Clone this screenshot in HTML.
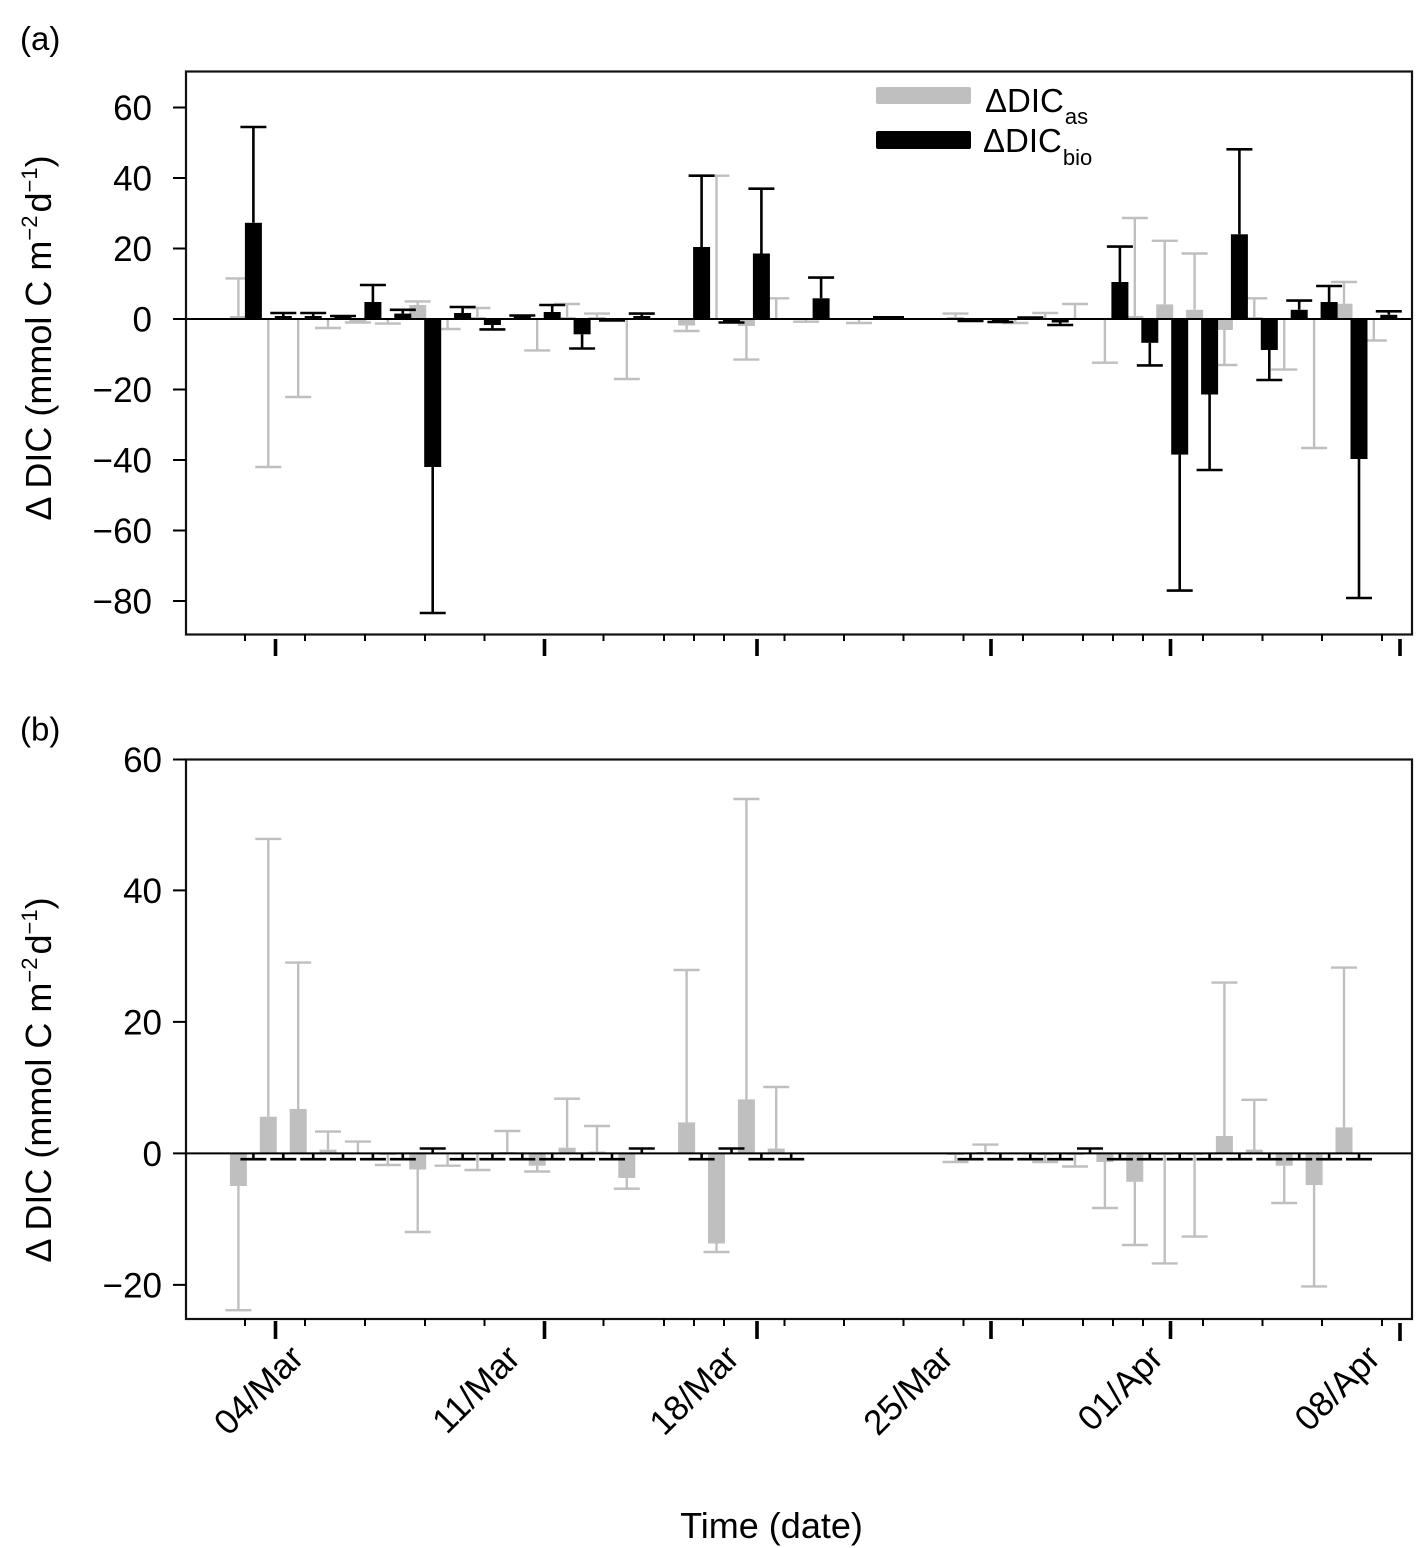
<!DOCTYPE html>
<html>
<head>
<meta charset="utf-8">
<style>
  html, body { margin: 0; padding: 0; background: #ffffff; }
  svg { display: block; }
  text { font-family: "Liberation Sans", Arial, Helvetica, sans-serif; fill: #000; }
</style>
</head>
<body>
<svg width="1417" height="1548" viewBox="0 0 1417 1548" xmlns="http://www.w3.org/2000/svg">
  <rect x="0" y="0" width="1417" height="1548" fill="#ffffff"/>

  <!-- ================= PANEL A ================= -->
  <text x="20" y="50" font-size="33">(a)</text>

  <!-- gray bars (a) -->
  <g fill="#bfbfbf">
    <rect x="229.9" y="316" width="17" height="3"/>
    <rect x="349.4" y="319" width="17" height="2.5"/>
    <rect x="409.2" y="305" width="17" height="14"/>
    <rect x="468.9" y="317" width="17" height="2"/>
    <rect x="558.6" y="317" width="17" height="2"/>
    <rect x="588.5" y="317" width="17" height="2"/>
    <rect x="678.1" y="319" width="17" height="6.5"/>
    <rect x="737.9" y="319" width="17" height="7"/>
    <rect x="947" y="317" width="17" height="2"/>
    <rect x="1126.3" y="316" width="17" height="3"/>
    <rect x="1156.2" y="304.4" width="17" height="14.6"/>
    <rect x="1186.1" y="309.8" width="17" height="9.2"/>
    <rect x="1215.9" y="319" width="17" height="11"/>
    <rect x="1245.8" y="317" width="17" height="2"/>
    <rect x="1335.5" y="303.7" width="17" height="15.3"/>
  </g>
  <!-- gray error bars (a) -->
  <path fill="none" stroke="#bfbfbf" stroke-width="2.4" d="
    M238.4 317V278.4M225.4 278.4H251.4
    M268.3 320V467M255.3 467H281.3
    M298.2 320V397M285.2 397H311.2
    M328 320V328M315 328H341
    M357.9 321V322.5M344.9 322.5H370.9
    M387.8 320V323.6M374.8 323.6H400.8
    M417.7 305V301.4M404.7 301.4H430.7
    M447.6 320V329M434.6 329H460.6
    M477.4 318V308M464.4 308H490.4
    M537.2 320V350.4M524.2 350.4H550.2
    M567.1 318V304M554.1 304H580.1
    M597 318V313.6M584 313.6H610
    M626.8 320V379M613.8 379H639.8
    M686.6 325.5V331M673.6 331H699.6
    M716.5 318V175.7M703.5 175.7H729.5
    M746.4 326V359.6M733.4 359.6H759.4
    M776.2 318V298.3M763.2 298.3H789.2
    M806.1 320V321.7M793.1 321.7H819.1
    M859 320V323M846 323H872
    M955.5 318V313.6M942.5 313.6H968.5
    M1015.3 320V323M1002.3 323H1028.3
    M1045.2 318V313M1032.2 313H1058.2
    M1075 318V304M1062 304H1088
    M1104.9 320V362.7M1091.9 362.7H1117.9
    M1134.8 316V218M1121.8 218H1147.8
    M1164.7 304.4V240.8M1151.7 240.8H1177.7
    M1194.6 309.8V253.5M1181.6 253.5H1207.6
    M1224.4 330V365M1211.4 365H1237.4
    M1254.3 317V298.3M1241.3 298.3H1267.3
    M1284.2 320V369.6M1271.2 369.6H1297.2
    M1314.1 320V448M1301.1 448H1327.1
    M1344 303.7V282M1331 282H1357
    M1373.8 320V340.5M1360.8 340.5H1386.8"/>

  <!-- black bars (a) -->
  <g fill="#000">
    <rect x="244.9" y="222.8" width="17" height="96.2"/>
    <rect x="274.8" y="316" width="17" height="3"/>
    <rect x="304.7" y="316" width="17" height="3"/>
    <rect x="334.5" y="316.5" width="17" height="2.5"/>
    <rect x="364.4" y="302" width="17" height="17"/>
    <rect x="394.3" y="313.6" width="17" height="5.4"/>
    <rect x="424.2" y="319" width="17" height="148"/>
    <rect x="454.1" y="313" width="17" height="6"/>
    <rect x="483.9" y="319" width="17" height="6"/>
    <rect x="513.8" y="316.5" width="17" height="2.5"/>
    <rect x="543.7" y="312" width="17" height="7"/>
    <rect x="573.6" y="319" width="17" height="15.3"/>
    <rect x="603.5" y="319" width="17" height="1.5"/>
    <rect x="633.3" y="316" width="17" height="3"/>
    <rect x="693.1" y="247" width="17" height="72"/>
    <rect x="723" y="319" width="17" height="2.5"/>
    <rect x="752.9" y="253.5" width="17" height="65.5"/>
    <rect x="812.6" y="298.3" width="17" height="20.7"/>
    <rect x="873" y="316" width="31" height="3"/>
    <rect x="962" y="319" width="17" height="1.5"/>
    <rect x="991.9" y="319" width="17" height="2.5"/>
    <rect x="1021.8" y="317.5" width="17" height="1.5"/>
    <rect x="1051.7" y="319" width="17" height="3.5"/>
    <rect x="1111.4" y="282" width="17" height="37"/>
    <rect x="1141.3" y="319" width="17" height="23.8"/>
    <rect x="1171.2" y="319" width="17" height="135.6"/>
    <rect x="1201.1" y="319" width="17" height="75.5"/>
    <rect x="1230.9" y="234.3" width="17" height="84.7"/>
    <rect x="1260.8" y="319" width="17" height="31"/>
    <rect x="1290.7" y="309.8" width="17" height="9.2"/>
    <rect x="1320.6" y="302" width="17" height="17"/>
    <rect x="1350.5" y="319" width="17" height="140"/>
    <rect x="1380.3" y="314.8" width="17" height="4.2"/>
  </g>
  <!-- black error bars (a) -->
  <path fill="none" stroke="#000" stroke-width="2.6" d="
    M253.4 222.8V127M240.4 127H266.4
    M283.3 316V313M270.3 313H296.3
    M313.2 316V313M300.2 313H326.2
    M330 316H356
    M372.9 302V285M359.9 285H385.9
    M402.8 313.6V309.8M389.8 309.8H415.8
    M432.7 467V613M419.7 613H445.7
    M462.6 313V307M449.6 307H475.6
    M492.4 325V329.4M479.4 329.4H505.4
    M509.3 315.5H535.3
    M552.2 312V305M539.2 305H565.2
    M582.1 334.3V348.5M569.1 348.5H595.1
    M599 320.5H625
    M641.8 316V313.6M628.8 313.6H654.8
    M701.6 247V175.7M688.6 175.7H714.6
    M718.5 322.5H744.5
    M761.4 253.5V188.7M748.4 188.7H774.4
    M821.1 298.3V277.6M808.1 277.6H834.1
    M957.5 321H983.5
    M987.4 322H1013.4
    M1017.3 317.5H1043.3
    M1060.2 322.5V325M1047.2 325H1073.2
    M1119.9 282V246.6M1106.9 246.6H1132.9
    M1149.8 342.8V365.4M1136.8 365.4H1162.8
    M1179.7 454.6V590.6M1166.7 590.6H1192.7
    M1209.6 394.5V470M1196.6 470H1222.6
    M1239.4 234.3V149.3M1226.4 149.3H1252.4
    M1269.3 350V380M1256.3 380H1282.3
    M1299.2 309.8V300.6M1286.2 300.6H1312.2
    M1329.1 302V286M1316.1 286H1342.1
    M1359 459V598M1346 598H1372
    M1388.8 314.8V311.3M1375.8 311.3H1401.8"/>

  <!-- zero line (a) -->
  <line x1="186" y1="319" x2="1412" y2="319" stroke="#000" stroke-width="2"/>
  <!-- frame (a) -->
  <rect x="186" y="71.5" width="1226" height="563" fill="none" stroke="#111" stroke-width="2.2"/>

  <!-- y ticks (a) -->
  <path stroke="#000" stroke-width="2" d="
    M173 107.5H186 M173 178H186 M173 248.5H186 M173 319H186
    M173 389.5H186 M173 460H186 M173 530.5H186 M173 601H186"/>
  <g font-size="35" text-anchor="end">
    <text x="152" y="120">60</text>
    <text x="152" y="190.5">40</text>
    <text x="152" y="261">20</text>
    <text x="152" y="331.5">0</text>
    <text x="152" y="402">−20</text>
    <text x="152" y="472.5">−40</text>
    <text x="152" y="543">−60</text>
    <text x="152" y="613.5">−80</text>
  </g>
  <!-- x ticks (a) -->
  <path stroke="#000" stroke-width="2" d="
    M245 634.5V641 M305 634.5V641 M365 634.5V641 M425 634.5V641 M484.5 634.5V641
    M603.5 634.5V641 M664 634.5V641 M694 634.5V641 M724 634.5V641 M784.5 634.5V641
    M844 634.5V641 M903.5 634.5V641 M963.5 634.5V641 M1023 634.5V641 M1083 634.5V641
    M1113 634.5V641 M1143 634.5V641 M1203 634.5V641 M1262.5 634.5V641 M1322 634.5V641 M1382 634.5V641"/>
  <path stroke="#000" stroke-width="3.6" d="
    M275.5 639V656 M544.5 639V656 M757 639V656 M991 639V656 M1170.5 639V656 M1400 639V656"/>

  <!-- y title (a) -->
  <text transform="translate(51,338) rotate(-90)" text-anchor="middle" font-size="36">Δ DIC (mmol C m<tspan font-size="22" dy="-14">−2</tspan><tspan dx="3" dy="14">d</tspan><tspan font-size="22" dy="-14">−1</tspan><tspan dy="14">)</tspan></text>

  <!-- legend -->
  <rect x="876" y="87" width="95" height="17" rx="2" fill="#bfbfbf"/>
  <rect x="876" y="131" width="95" height="18" rx="2" fill="#000"/>
  <text x="985" y="112" font-size="33">ΔDIC<tspan font-size="22" dx="1" dy="12">as</tspan></text>
  <text x="983" y="152" font-size="33">ΔDIC<tspan font-size="22" dx="1" dy="13">bio</tspan></text>

  <!-- ================= PANEL B ================= -->
  <text x="20" y="740.5" font-size="33">(b)</text>

  <!-- gray bars (b) -->
  <g fill="#bfbfbf">
    <rect x="229.9" y="1153.4" width="17" height="32.6"/>
    <rect x="259.8" y="1116.7" width="17" height="36.7"/>
    <rect x="289.7" y="1109" width="17" height="44.4"/>
    <rect x="319.5" y="1149.6" width="17" height="3.8"/>
    <rect x="379.3" y="1153.4" width="17" height="1.6"/>
    <rect x="409.2" y="1153.4" width="17" height="16.1"/>
    <rect x="498.8" y="1152" width="17" height="1.4"/>
    <rect x="528.7" y="1153.4" width="17" height="12.3"/>
    <rect x="558.6" y="1147.7" width="17" height="5.7"/>
    <rect x="588.5" y="1151.5" width="17" height="1.9"/>
    <rect x="618.3" y="1153.4" width="17" height="24.6"/>
    <rect x="678.1" y="1122.4" width="17" height="31"/>
    <rect x="708" y="1153.4" width="17" height="90.1"/>
    <rect x="737.9" y="1099.4" width="17" height="54"/>
    <rect x="767.7" y="1148.5" width="17" height="4.9"/>
    <rect x="947" y="1153.4" width="17" height="1.6"/>
    <rect x="976.9" y="1152" width="17" height="1.4"/>
    <rect x="1036.7" y="1153.4" width="17" height="1.6"/>
    <rect x="1066.5" y="1153.4" width="17" height="1.6"/>
    <rect x="1096.4" y="1153.4" width="17" height="8.6"/>
    <rect x="1126.3" y="1153.4" width="17" height="28.4"/>
    <rect x="1156.2" y="1153.4" width="17" height="1.6"/>
    <rect x="1186.1" y="1153.4" width="17" height="1.6"/>
    <rect x="1215.9" y="1136" width="17" height="17.4"/>
    <rect x="1245.8" y="1149.6" width="17" height="3.8"/>
    <rect x="1275.7" y="1153.4" width="17" height="12.3"/>
    <rect x="1305.6" y="1153.4" width="17" height="31.6"/>
    <rect x="1335.5" y="1127.4" width="17" height="26"/>
  </g>
  <!-- gray error bars (b) -->
  <path fill="none" stroke="#bfbfbf" stroke-width="2.4" d="
    M238.4 1186V1310.2M225.4 1310.2H251.4
    M268.3 1116.7V838.9M255.3 838.9H281.3
    M298.2 1109V962.6M285.2 962.6H311.2
    M328 1149.6V1131.6M315 1131.6H341
    M357.9 1152.5V1141.6M344.9 1141.6H370.9
    M387.8 1155V1165M374.8 1165H400.8
    M417.7 1169.5V1232M404.7 1232H430.7
    M447.6 1154.5V1165.7M434.6 1165.7H460.6
    M477.4 1154.5V1170M464.4 1170H490.4
    M507.3 1152V1131M494.3 1131H520.3
    M537.2 1165.7V1171.5M524.2 1171.5H550.2
    M567.1 1147.7V1098.7M554.1 1098.7H580.1
    M597 1151.5V1126M584 1126H610
    M626.8 1178V1188.7M613.8 1188.7H639.8
    M686.6 1122.4V970M673.6 970H699.6
    M716.5 1243.5V1252M703.5 1252H729.5
    M746.4 1099.4V799M733.4 799H759.4
    M776.2 1148.5V1087M763.2 1087H789.2
    M955.5 1155V1162M942.5 1162H968.5
    M985.4 1152V1144.6M972.4 1144.6H998.4
    M1045.2 1155V1162M1032.2 1162H1058.2
    M1075 1155V1166.5M1062 1166.5H1088
    M1104.9 1162V1208M1091.9 1208H1117.9
    M1134.8 1181.8V1245M1121.8 1245H1147.8
    M1164.7 1155V1263.4M1151.7 1263.4H1177.7
    M1194.6 1155V1236.6M1181.6 1236.6H1207.6
    M1224.4 1136V982.6M1211.4 982.6H1237.4
    M1254.3 1149.6V1099.8M1241.3 1099.8H1267.3
    M1284.2 1165.7V1203M1271.2 1203H1297.2
    M1314.1 1185V1286.4M1301.1 1286.4H1327.1
    M1344 1127.4V967.6M1331 967.6H1357"/>

  <!-- black error bars (b) -->
  <path fill="none" stroke="#000" stroke-width="2.6" d="
    M253.4 1153.4V1159.2M240.4 1159.2H266.4
    M283.3 1153.4V1159.2M270.3 1159.2H296.3
    M313.2 1153.4V1159.2M300.2 1159.2H326.2
    M343 1153.4V1159.2M330 1159.2H356
    M372.9 1153.4V1159.2M359.9 1159.2H385.9
    M402.8 1153.4V1159.2M389.8 1159.2H415.8
    M462.6 1153.4V1159.2M449.6 1159.2H475.6
    M492.4 1153.4V1159.2M479.4 1159.2H505.4
    M522.3 1153.4V1159.2M509.3 1159.2H535.3
    M552.2 1153.4V1159.2M539.2 1159.2H565.2
    M582.1 1153.4V1159.2M569.1 1159.2H595.1
    M612 1153.4V1159.2M599 1159.2H625
    M701.6 1153.4V1159.2M688.6 1159.2H714.6
    M761.4 1153.4V1159.2M748.4 1159.2H774.4
    M791.2 1153.4V1159.2M778.2 1159.2H804.2
    M970.5 1153.4V1159.2M957.5 1159.2H983.5
    M1000.4 1153.4V1159.2M987.4 1159.2H1013.4
    M1030.3 1153.4V1159.2M1017.3 1159.2H1043.3
    M1060.2 1153.4V1159.2M1047.2 1159.2H1073.2
    M1119.9 1153.4V1159.2M1106.9 1159.2H1132.9
    M1149.8 1153.4V1159.2M1136.8 1159.2H1162.8
    M1179.7 1153.4V1159.2M1166.7 1159.2H1192.7
    M1209.6 1153.4V1159.2M1196.6 1159.2H1222.6
    M1239.4 1153.4V1159.2M1226.4 1159.2H1252.4
    M1269.3 1153.4V1159.2M1256.3 1159.2H1282.3
    M1299.2 1153.4V1159.2M1286.2 1159.2H1312.2
    M1329.1 1153.4V1159.2M1316.1 1159.2H1342.1
    M1359 1153.4V1159.2M1346 1159.2H1372
    M432.7 1153.4V1148.5M419.7 1148.5H445.7
    M641.8 1153.4V1148.5M628.8 1148.5H654.8
    M731.5 1153.4V1148.5M718.5 1148.5H744.5
    M1090 1153.4V1148.5M1077 1148.5H1103"/>

  <!-- zero line (b) -->
  <line x1="186" y1="1153.4" x2="1412" y2="1153.4" stroke="#000" stroke-width="2"/>
  <!-- frame (b) -->
  <rect x="186" y="759.5" width="1226" height="559.5" fill="none" stroke="#111" stroke-width="2.2"/>

  <!-- y ticks (b) -->
  <path stroke="#000" stroke-width="2" d="
    M173 759.5H186 M173 890.4H186 M173 1021.9H186 M173 1153.4H186 M173 1284.9H186"/>
  <g font-size="35" text-anchor="end">
    <text x="162" y="772">60</text>
    <text x="162" y="903">40</text>
    <text x="162" y="1034.4">20</text>
    <text x="162" y="1166">0</text>
    <text x="162" y="1297.4">−20</text>
  </g>
  <!-- x ticks (b) -->
  <path stroke="#000" stroke-width="2" d="
    M245 1319V1326 M305 1319V1326 M365 1319V1326 M425 1319V1326 M484.5 1319V1326
    M603.5 1319V1326 M664 1319V1326 M694 1319V1326 M724 1319V1326 M784.5 1319V1326
    M844 1319V1326 M903.5 1319V1326 M963.5 1319V1326 M1023 1319V1326 M1083 1319V1326
    M1113 1319V1326 M1143 1319V1326 M1203 1319V1326 M1262.5 1319V1326 M1322 1319V1326 M1382 1319V1326"/>
  <path stroke="#000" stroke-width="3.6" d="
    M275.5 1321V1339 M544.5 1321V1339 M757 1321V1339 M991 1321V1339 M1170.5 1321V1339 M1400 1323V1341"/>

  <!-- y title (b) -->
  <text transform="translate(51,1080) rotate(-90)" text-anchor="middle" font-size="36">Δ DIC (mmol C m<tspan font-size="22" dy="-14">−2</tspan><tspan dx="3" dy="14">d</tspan><tspan font-size="22" dy="-14">−1</tspan><tspan dy="14">)</tspan></text>

  <!-- x labels -->
  <g font-size="35" text-anchor="end">
    <text transform="translate(305.5,1360) rotate(-45)">04/Mar</text>
    <text transform="translate(522,1360) rotate(-45)">11/Mar</text>
    <text transform="translate(741,1360) rotate(-45)">18/Mar</text>
    <text transform="translate(955,1360) rotate(-45)">25/Mar</text>
    <text transform="translate(1165,1360) rotate(-45)">01/Apr</text>
    <text transform="translate(1382,1360) rotate(-45)">08/Apr</text>
  </g>
  <text x="771.5" y="1538" font-size="36" text-anchor="middle">Time (date)</text>
</svg>
</body>
</html>
